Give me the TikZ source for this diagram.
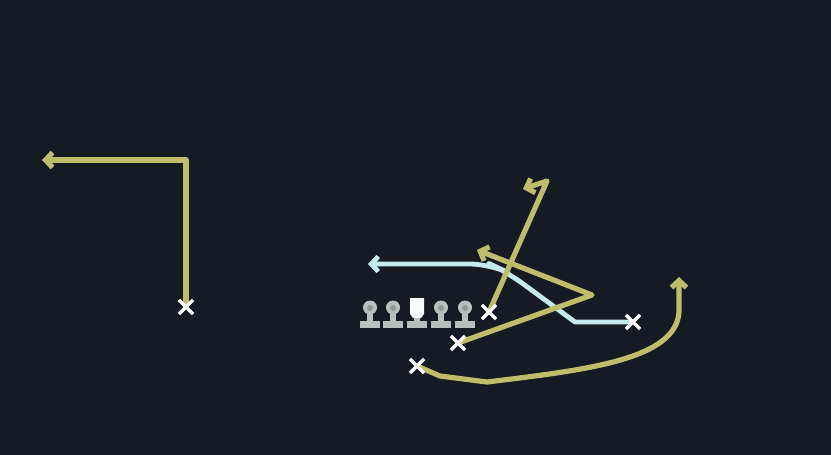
\documentclass[tikz,border=0pt]{standalone}
\usetikzlibrary{arrows.meta,shapes.misc,backgrounds}

\definecolor{field}{HTML}{161A22}
\definecolor{route}{HTML}{BDBD6C}
\definecolor{motion}{HTML}{C6E9EE}
\definecolor{lineman}{HTML}{B8BFBC}
\definecolor{helmet}{HTML}{8E9794}

\tikzset{
    player/.style={cross out, draw=white, line width=1.6pt, minimum size=5.5pt, inner sep=0pt},
    runroute/.style={draw=route, line width=2.6pt, line join=round, line cap=round},
    blueroute/.style={draw=motion, line width=2.4pt, line join=round, line cap=round},
    tip/.style={-{Straight Barb[length=3.5pt,width=7.5pt]}}
}

\begin{document}
\begin{tikzpicture}[x=0.5pt,y=-0.5pt]
            \useasboundingbox (0,0) rectangle (831,455);

            % Offensive line
            \foreach \x in {370,393,441,465} {
                \fill[lineman] (\x-10,321) rectangle (\x+10,328);
                \fill[lineman] (\x-3,313) rectangle (\x+3,322);
                \fill[lineman] (\x,307.5) circle (7);
                \fill[helmet] (\x,308) circle (3);
            }
            % Center
            \fill[lineman] (407,321) rectangle (427,328);
            \fill[lineman] (414,316) rectangle (420,322);
            \fill[white!92!lineman] (410,298) -- (424,298) -- (424,314) -- (421,318) -- (413,318) -- (410,314) -- cycle;

            % Skill players
            \node[player] (wr) at (186,307) {};
            \node[player] (slot) at (489,312) {};
            \node[player] (te) at (633,322) {};
            \node[player] (wing) at (458,343) {};
            \node[player] (rb) at (417,366) {};

            \begin{scope}[on background layer]
            % Field
            \fill[field] (0,0) rectangle (831,455);

            % Corner route
            \draw[runroute, tip] (wr.center) -- (186,160) -- (42,160);

            % Shallow cross
            \draw[blueroute, tip] (te.center) -- (575,322) [rounded corners=10] -- (507,272) -- (490,264) [sharp corners] -- (368,264);

            % Post with hook
            \draw[runroute, tip] (slot.center) -- (547,181) -- (523,189);

            % Out and back
            \draw[runroute, tip] (wing.center) -- (592,295) -- (477,250);

            % Wheel
            \draw[runroute, tip] (rb.center) -- (440,376) -- (487,382)
                .. controls (585,370) and (676,360) .. (679,312) -- (679,277);
            \end{scope}
\end{tikzpicture}
\end{document}
